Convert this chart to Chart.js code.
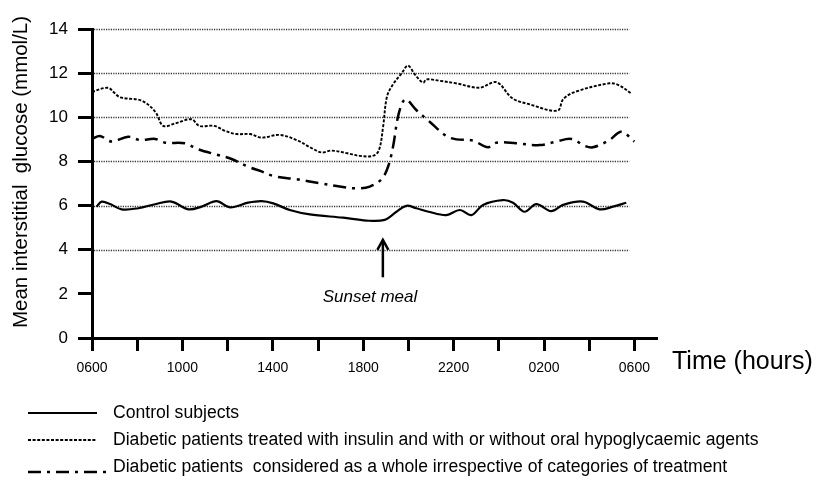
<!DOCTYPE html>
<html><head><meta charset="utf-8">
<script src="https://cdn.jsdelivr.net/npm/chart.js@4/dist/chart.umd.min.js"></script>
<style>html,body{margin:0;padding:0;background:#fff;}#wrap{width:816px;height:487px;}</style>
</head><body><div id="wrap"><canvas id="c" width="816" height="487"></canvas></div>
<script>
// ---- data (x = hours after 06:00) ----
const controlHours = [0.2,0.43,0.8,1.31,2.05,2.79,3.52,4.26,4.85,5.51,6.1,6.91,7.5,8.02,8.75,9.64,11.11,12.14,12.95,13.47,13.91,14.35,14.9,15.68,16.27,16.79,17.3,18.18,18.63,19.14,19.66,20.32,20.84,21.72,22.46,23.05,23.64];
const controlValues = [5.95,6.18,6.07,5.83,5.88,6.06,6.18,5.83,5.95,6.2,5.92,6.13,6.2,6.1,5.8,5.6,5.45,5.32,5.35,5.72,5.99,5.88,5.72,5.57,5.8,5.57,6.03,6.25,6.13,5.72,6.07,5.75,6.03,6.18,5.83,5.95,6.13];
const insulinHours = [0,0.7,1.0,1.25,2.2,2.8,3.15,3.7,4.4,4.75,5.4,5.9,6.4,7.0,7.5,8.3,9.05,9.65,10.15,10.6,11.3,11.85,12.45,12.7,12.88,13.05,13.3,13.7,13.98,14.3,14.65,14.8,15.4,16.1,17.15,17.9,18.6,19.35,20.6,20.85,21.4,22.9,23.3,23.85];
const insulinValues = [11.15,11.34,11.1,10.9,10.75,10.25,9.61,9.73,9.91,9.61,9.61,9.38,9.24,9.24,9.08,9.2,8.97,8.64,8.41,8.49,8.37,8.25,8.26,8.52,9.57,10.93,11.46,11.99,12.34,11.92,11.57,11.72,11.65,11.54,11.34,11.59,10.86,10.59,10.3,10.82,11.16,11.54,11.46,11.09];
const wholeHours = [0,0.35,0.87,1.6,2.12,2.79,3.23,4.11,4.7,5.58,6.18,6.91,7.5,8.02,9.05,10.08,10.96,11.7,12.29,12.81,13.1,13.32,13.54,13.76,13.91,14.35,14.94,15.68,16.12,16.86,17.52,17.89,18.77,19.81,20.54,21.21,21.79,22.16,22.9,23.42,24.0];
const wholeValues = [9.02,9.15,8.9,9.12,8.97,9.02,8.85,8.82,8.55,8.29,8.11,7.76,7.55,7.34,7.19,7.01,6.86,6.78,6.86,7.19,7.76,8.67,10.03,10.71,10.82,10.33,9.8,9.15,9.0,8.94,8.64,8.85,8.82,8.74,8.9,9.02,8.71,8.64,8.97,9.35,8.9];

const xTickHours = [0,2,4,6,8,10,12,14,16,18,20,22,24];
const labelledTickHours = [0,4,8,12,16,20,24];
const labelledTickText = ['0600','1000','1400','1800','2200','0200','0600'];
const gridValues = [4,6,8,10,12,14];
const seriesNames = ['Control subjects','Diabetic patients treated with insulin and with or without oral hypoglycaemic agents','Diabetic patients  considered as a whole irrespective of categories of treatment'];
const sunsetHour = 12.87, sunsetArrowTop = 4.45, sunsetArrowBottom = 2.75, sunsetLabelHour = 12.3, sunsetLabelValue = 1.86;

const FONT = '"Liberation Sans", Arial, sans-serif';
const pts = (h, v) => h.map((x, i) => ({x, y: v[i]}));

const extras = {
  id: 'extras',
  beforeDatasetsDraw(chart) {
    const {ctx, scales: {x, y}} = chart;
    ctx.save();
    ctx.strokeStyle = '#333'; ctx.lineWidth = 1.3; ctx.setLineDash([1.2, 1.2]);
    const x0 = x.getPixelForValue(0), x1 = x.getPixelForValue(24) - 5;
    gridValues.forEach(v => {
      const py = Math.round(y.getPixelForValue(v)) + 0.5;
      ctx.beginPath(); ctx.moveTo(x0 + 2, py); ctx.lineTo(x1, py); ctx.stroke();
    });
    ctx.restore();
  },
  afterDraw(chart) {
    const {ctx, scales: {x, y}} = chart;
    ctx.save();
    ctx.fillStyle = '#000'; ctx.strokeStyle = '#000';
    // y title
    ctx.save();
    ctx.translate(21, 172); ctx.rotate(-Math.PI / 2);
    ctx.font = '20.5px ' + FONT; ctx.textAlign = 'center'; ctx.textBaseline = 'middle';
    ctx.fillText('Mean interstitial  glucose (mmol/L)', 0, 0);
    ctx.restore();
    // x title
    ctx.font = '25px ' + FONT; ctx.textAlign = 'left'; ctx.textBaseline = 'middle';
    ctx.fillText('Time (hours)', 672, 362);
    // sunset meal
    ctx.font = 'italic 17px ' + FONT; ctx.textAlign = 'center';
    ctx.fillText('Sunset meal', x.getPixelForValue(sunsetLabelHour), y.getPixelForValue(sunsetLabelValue));
    const ax = x.getPixelForValue(sunsetHour), aTop = y.getPixelForValue(sunsetArrowTop), aBot = y.getPixelForValue(sunsetArrowBottom);
    ctx.lineWidth = 2.5; ctx.setLineDash([]);
    ctx.beginPath(); ctx.moveTo(ax, aBot); ctx.lineTo(ax, aTop + 2); ctx.stroke();
    ctx.beginPath(); ctx.moveTo(ax - 5.5, aTop + 10); ctx.lineTo(ax, aTop); ctx.lineTo(ax + 5.5, aTop + 10); ctx.stroke();
    // legend
    const rows = [413, 440, 467], ends = [97, 97, 106];
    chart.data.datasets.forEach((ds, i) => {
      ctx.lineWidth = ds.borderWidth; ctx.setLineDash(ds.borderDash || []);
      const ly = rows[i] + (i === 2 ? 5 : 0);
      ctx.beginPath(); ctx.moveTo(28, ly); ctx.lineTo(ends[i], ly); ctx.stroke();
      ctx.setLineDash([]);
      ctx.font = '17.6px ' + FONT; ctx.textAlign = 'left'; ctx.textBaseline = 'middle';
      ctx.fillText(ds.label, 113, rows[i]);
    });
    ctx.restore();
  }
};

new Chart(document.getElementById('c'), {
  type: 'line',
  data: {
    datasets: [
      {label: seriesNames[0], data: pts(controlHours, controlValues), borderColor: '#000', borderWidth: 2.2, tension: 0.35},
      {label: seriesNames[1], data: pts(insulinHours, insulinValues), borderColor: '#000', borderWidth: 1.9, borderDash: [3, 1.6], tension: 0.35},
      {label: seriesNames[2], data: pts(wholeHours, wholeValues), borderColor: '#000', borderWidth: 2.5, borderDash: [13, 6, 3, 6], tension: 0.35}
    ]
  },
  options: {
    responsive: false, animation: false, devicePixelRatio: 1,
    layout: {padding: {top: 29, right: 159, left: 0, bottom: 0}},
    elements: {point: {radius: 0}},
    plugins: {legend: {display: false}, tooltip: {enabled: false}},
    scales: {
      x: {
        type: 'linear', min: 0, max: 25,
        afterBuildTicks: s => { s.ticks = xTickHours.map(v => ({value: v})); },
        afterFit: s => { s.height = 149; },
        ticks: {
          autoSkip: false, maxRotation: 0, color: '#000', padding: 9,
          font: {family: FONT, size: 14},
          callback: v => { const i = labelledTickHours.indexOf(v); return i >= 0 ? labelledTickText[i] : ''; }
        },
        grid: {drawOnChartArea: false, drawTicks: true, tickLength: 13, tickWidth: 3, color: '#000', tickColor: '#000'},
        border: {display: true, width: 3, color: '#000'}
      },
      y: {
        min: 0, max: 14,
        afterFit: s => { s.width = 92; },
        ticks: {stepSize: 2, color: '#000', padding: 10, font: {family: FONT, size: 17}},
        grid: {drawOnChartArea: false, drawTicks: true, tickLength: 14, tickWidth: 3, color: '#000', tickColor: '#000'},
        border: {display: true, width: 3, color: '#000'}
      }
    }
  },
  plugins: [extras]
});
</script></body></html>
